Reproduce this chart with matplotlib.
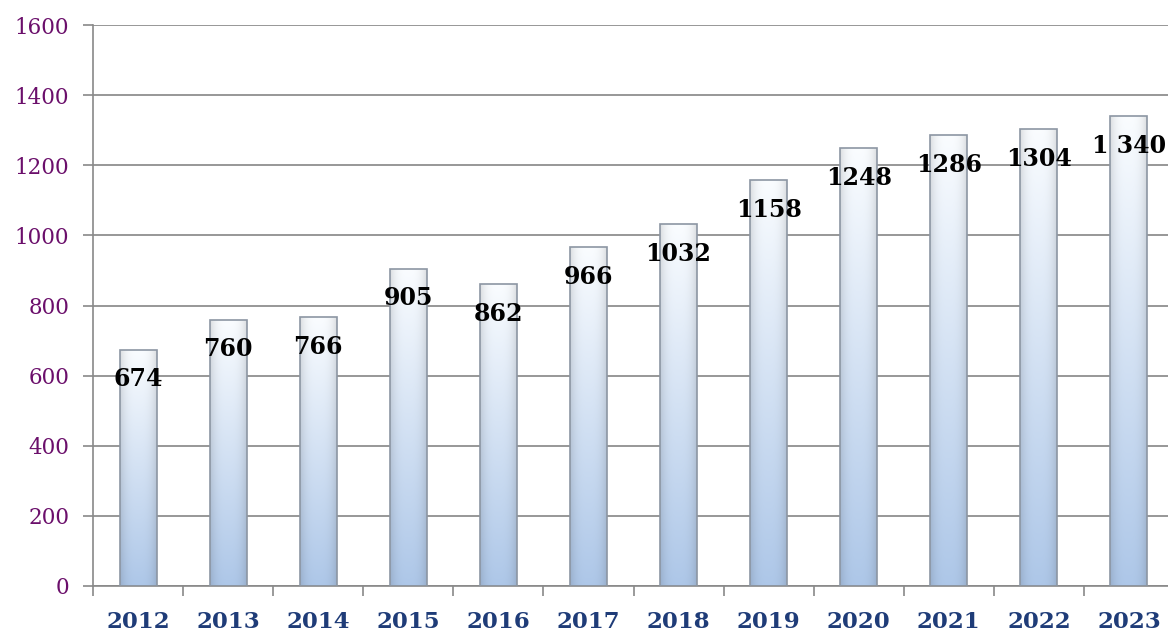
import numpy as np
import matplotlib.pyplot as plt
from matplotlib.patches import Rectangle

years = ['2012', '2013', '2014', '2015', '2016', '2017',
         '2018', '2019', '2020', '2021', '2022', '2023']
values = [674, 760, 766, 905, 862, 966, 1032, 1158, 1248, 1286, 1304, 1340]
labels = ['674', '760', '766', '905', '862', '966', '1032', '1158',
          '1248', '1286', '1304', '1 340']

plt.rcParams['font.family'] = ['DejaVu Serif']

fig = plt.figure(figsize=(11.68, 6.31), dpi=100)
ax = fig.add_axes([93 / 1168, 45 / 631, 1081 / 1168, 561 / 631])

top_col = np.array([0.98, 0.99, 1.0])
bot_col = np.array([0.68, 0.78, 0.91])

# gradient image: vertical white->blue, darker towards the side edges
ny, nx = 200, 40
t = np.linspace(0, 1, ny)[:, None, None]
grad = top_col * (1 - t) + bot_col * t
u = np.linspace(-1, 1, nx)[None, :, None]
shade = 1 - 0.12 * np.abs(u) ** 3
img = np.clip(grad * shade, 0, 1)

w = 0.41
for i, v in enumerate(values):
    x0 = i - w / 2
    im = ax.imshow(img, extent=(x0, x0 + w, 0, v), aspect='auto',
                   origin='upper', zorder=2, interpolation='bilinear')
    rect = Rectangle((x0, 0), w, v, facecolor='none',
                     edgecolor='#8c96a3', linewidth=1.2, zorder=3)
    ax.add_patch(rect)
    im.set_clip_path(rect)
    ax.text(i, v - 85, labels[i], ha='center', va='center',
            fontsize=17, fontweight='bold', color='black', zorder=4)

ax.set_xlim(-0.5, 11.5)
ax.set_ylim(0, 1600)
ax.set_yticks(np.arange(0, 1601, 200))
ax.set_xticks(np.arange(-0.5, 12, 1))
ax.set_xticklabels([])
ax.set_xticks(np.arange(12), labels=years, minor=True)
ax.tick_params(axis='x', which='major', length=7, color='#898989', width=1.2)
ax.tick_params(axis='x', which='minor', length=0, pad=18,
               labelsize=16.5, labelcolor='#1f3c78')
for lab in ax.get_xticklabels(minor=True):
    lab.set_fontweight('bold')
ax.tick_params(axis='y', length=7, color='#898989', width=1.2,
               labelsize=15.5, labelcolor='#6b0f6b', pad=10)

ax.grid(axis='y', color='#8f8f8f', linewidth=1.3, zorder=0)
ax.set_axisbelow(True)
for s in ['top', 'right']:
    ax.spines[s].set_visible(False)
for s in ['left', 'bottom']:
    ax.spines[s].set_color('#898989')
    ax.spines[s].set_linewidth(1.2)

fig.savefig('out.png', dpi=100)
